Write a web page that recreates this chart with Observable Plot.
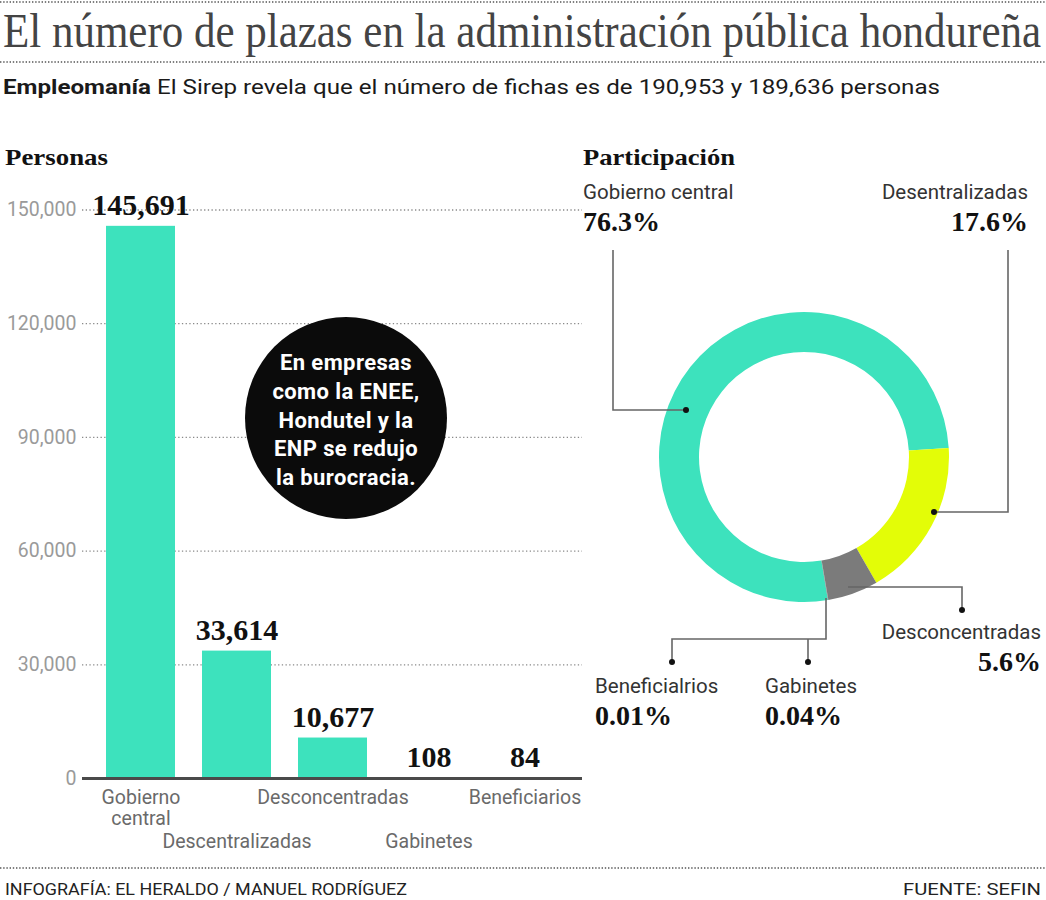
<!DOCTYPE html>
<html><head><meta charset="utf-8">
<script src="https://cdn.jsdelivr.net/npm/d3@7"></script>
<script src="https://cdn.jsdelivr.net/npm/@observablehq/plot@0.6"></script>
<style>
body{margin:0;background:#fff;}
#root{position:relative;width:1046px;height:900px;overflow:hidden;background:#fff;font-family:Roboto,"Open Sans",sans-serif;}
.abs{position:absolute;}
.fit{position:absolute;white-space:nowrap;transform-origin:0 0;}
#callout{position:absolute;left:245px;top:317px;width:202px;height:202px;border-radius:50%;background:#0b0b0b;color:#fff;
  font:bold 22px/28.7px Roboto,"Open Sans",sans-serif;letter-spacing:0.4px;text-align:center;display:flex;align-items:center;justify-content:center;box-sizing:border-box;padding-top:6px;}
</style></head>
<body><div id="root"></div>
<script>
// ---- data ----
const categories = ["Gobierno central","Descentralizadas","Desconcentradas","Gabinetes","Beneficiarios"];
const tickLabels = ["Gobierno\ncentral","Descentralizadas","Desconcentradas","Gabinetes","Beneficiarios"];
const personas = [145691,33614,10677,108,84];
const yTicks = [0,30000,60000,90000,120000,150000];
const shareNames = ["Gobierno central","Desentralizadas","Desconcentradas","Gabinetes","Beneficialrios"];
const shareValues = [76.3,17.6,5.6,0.04,0.01];
const shareLabels = ["76.3%","17.6%","5.6%","0.04%","0.01%"];
const calloutLines = ["En empresas","como la ENEE,","Hondutel y la","ENP se redujo","la burocracia."];

const TEAL = "#3de2bd", YELLOW = "#e3fd07", GRAY = "#7b7b7b";
const shareColors = [TEAL, YELLOW, GRAY, GRAY, GRAY];
const SERIF = "'Liberation Serif', 'DejaVu Serif', serif";
const SANS = "Roboto, 'Open Sans', sans-serif";

const root = document.getElementById("root");

// ---- title & subtitle (HTML, scaled horizontally to the reference width) ----
function fitText(html, left, top, width, css) {
  const d = document.createElement("div");
  d.className = "fit";
  d.style.cssText += css;
  d.style.left = left + "px"; d.style.top = top + "px";
  d.innerHTML = html;
  root.appendChild(d);
  const w = d.getBoundingClientRect().width;
  d.style.transform = `scaleX(${width / w})`;
  return d;
}
fitText("El número de plazas en la administración pública hondureña", 3, 1, 1038,
  `font-family:${SERIF};font-size:48px;line-height:60px;color:#444;`);
fitText("<b>Empleomanía</b> El Sirep revela que el número de fichas es de 190,953 y 189,636 personas", 3, 74, 937,
  `font-family:${SANS};font-size:21px;line-height:26px;color:#1a1a1a;`);

// ---- overlay texts (rules, headers, footer) ----
const ov = d3.select(root).append("svg").attr("class","abs").style("left",0).style("top",0)
  .attr("width",1046).attr("height",900);
[2,62,868].forEach(y => ov.append("line").attr("x1",0).attr("x2",1046).attr("y1",y).attr("y2",y)
  .attr("stroke","#555").attr("stroke-width",1.4).attr("stroke-dasharray","1.4,1.8"));
ov.append("text").attr("x",5).attr("y",165).attr("textLength",103).attr("lengthAdjust","spacingAndGlyphs")
  .attr("font-family",SERIF).attr("font-weight","bold").attr("font-size",23).attr("fill","#111").text("Personas");
ov.append("text").attr("x",583).attr("y",165).attr("textLength",152).attr("lengthAdjust","spacingAndGlyphs")
  .attr("font-family",SERIF).attr("font-weight","bold").attr("font-size",23).attr("fill","#111").text("Participación");
ov.append("text").attr("x",5).attr("y",895).attr("textLength",402).attr("lengthAdjust","spacingAndGlyphs")
  .attr("font-family",SANS).attr("font-size",17).attr("fill","#222").text("INFOGRAFÍA: EL HERALDO / MANUEL RODRÍGUEZ");
ov.append("text").attr("x",1041).attr("y",895).attr("text-anchor","end").attr("textLength",138).attr("lengthAdjust","spacingAndGlyphs")
  .attr("font-family",SANS).attr("font-size",17).attr("fill","#222").text("FUENTE: SEFIN");

// ---- bar chart ----
const barData = categories.map((c,i)=>({cat:c, tick:tickLabels[i], value:personas[i], i}));
const fmt = d3.format(",");
const bar = Plot.plot({
  width: 582, height: 678, marginLeft: 82, marginRight: 0, marginTop: 29.5, marginBottom: 80,
  style: {background:"transparent", overflow:"visible", fontFamily: SANS},
  x: {domain: categories, paddingInner: 0.286, paddingOuter: 0.243, axis: null},
  y: {domain: [0,150000], axis: null},
  marks: [
    Plot.gridY(yTicks, {stroke:"#8a8a8a", strokeOpacity:1, strokeWidth:1.3, strokeDasharray:"1.3,2.4"}),
    Plot.axisY(yTicks, {tickSize:0, tickPadding:6, tickFormat: fmt, fontSize:19.5, fill:"#9a9a9a", label:null}),
    Plot.barY(barData, {x:"cat", y:"value", fill:TEAL}),
    Plot.ruleY([0], {stroke:"#4a4a4a", strokeWidth:3}),
    Plot.text(barData, {x:"cat", y:"value", text: d=>fmt(d.value), dy:-11, lineAnchor:"bottom",
      fontSize:30, fontWeight:"bold", fontFamily:SERIF, fill:"#111"}),
    Plot.text(barData.filter(d=>d.i%2===0), {x:"cat", y:()=>0, text:"tick", lineAnchor:"top", dy:10,
      fontSize:19.5, fill:"#6a6a6a", lineHeight:1.1}),
    Plot.text(barData.filter(d=>d.i%2===1), {x:"cat", y:()=>0, text:"tick", lineAnchor:"top", dy:56,
      fontSize:19.5, fill:"#6a6a6a"})
  ]
});
bar.style.position = "absolute"; bar.style.left = "0px"; bar.style.top = "180px";
root.appendChild(bar);

// ---- callout ----
const co = document.createElement("div");
co.id = "callout";
co.innerHTML = calloutLines.join("<br>");
root.appendChild(co);

// ---- donut ----
const OX = 560, OY = 170;             // panel origin on the page
const CX = 804 - OX, CY = 457 - OY;   // donut centre in panel
const leaders = [
  {path:[[613,250],[613,410],[686,410]], dots:[[686,410]]},
  {path:[[1008,250],[1008,512],[934,512]], dots:[[934,512]]},
  {path:[[848,587],[962,587],[962,610]], dots:[[962,610]]},
  {path:[[826,598],[826,639],[672,639],[672,662]], dots:[[672,662]]},
  {path:[[808,639],[808,662]], dots:[[808,662]]}
];
const labelPos = [
  {x:583, y:199, anchor:"start"},
  {x:1028, y:199, anchor:"end"},
  {x:1041, y:639, anchor:"end"},
  {x:765, y:693, anchor:"start"},
  {x:595, y:693, anchor:"start"}
];
const donutMark = () => {
  const g = d3.create("svg:g");
  const a0 = 170.5 * Math.PI / 180;
  const arcs = d3.pie().sort(null).startAngle(a0).endAngle(a0 + 2*Math.PI)(shareValues);
  const arc = d3.arc().innerRadius(105).outerRadius(145);
  g.append("g").attr("transform",`translate(${CX},${CY})`)
    .selectAll("path").data(arcs).join("path").attr("d",arc).attr("fill",(d,i)=>shareColors[i]);
  const line = d3.line().x(p=>p[0]-OX).y(p=>p[1]-OY);
  leaders.forEach(l => {
    g.append("path").attr("d",line(l.path)).attr("fill","none").attr("stroke","#666").attr("stroke-width",1.6);
    l.dots.forEach(p => g.append("circle").attr("cx",p[0]-OX).attr("cy",p[1]-OY).attr("r",3).attr("fill","#111"));
  });
  shareNames.forEach((n,i) => {
    const p = labelPos[i];
    g.append("text").attr("x",p.x-OX).attr("y",p.y-OY).attr("text-anchor",p.anchor)
      .attr("font-family",SANS).attr("font-size",20.5).attr("fill","#333").text(n);
    g.append("text").attr("x",p.x-OX).attr("y",p.y-OY+32).attr("text-anchor",p.anchor)
      .attr("font-family",SERIF).attr("font-weight","bold").attr("font-size",28).attr("fill","#111").text(shareLabels[i]);
  });
  return g.node();
};
const donut = Plot.plot({
  width: 486, height: 570, margin: 0,
  style: {background:"transparent", overflow:"visible"},
  marks: [donutMark]
});
donut.style.position = "absolute"; donut.style.left = OX+"px"; donut.style.top = OY+"px";
root.appendChild(donut);
</script>
</body></html>
